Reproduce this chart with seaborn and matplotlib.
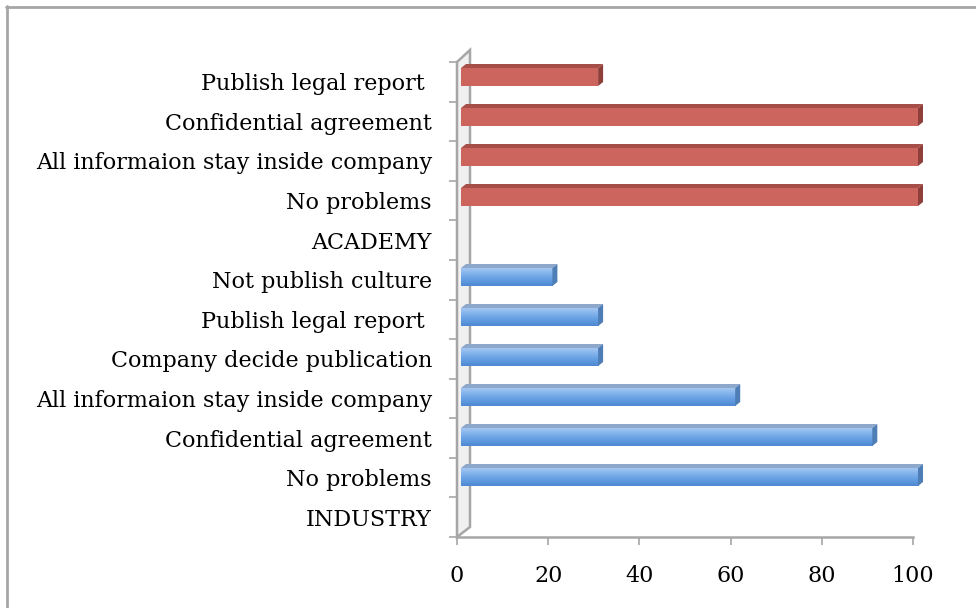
import numpy as np
import pandas as pd
import matplotlib
matplotlib.use("Agg")
import matplotlib.pyplot as plt
from matplotlib.patches import Polygon
from matplotlib.colors import LinearSegmentedColormap
import seaborn as sns

# ---- data (top to bottom) ----
labels = ["Publish legal report ", "Confidential agreement", "All informaion stay inside company",
          "No problems", "ACADEMY", "Not publish culture", "Publish legal report ",
          "Company decide publication", "All informaion stay inside company",
          "Confidential agreement", "No problems", "INDUSTRY"]
values = [30, 100, 100, 100, 0, 20, 30, 30, 60, 90, 100, 0]
groups = ["Academy"] * 5 + ["Industry"] * 7
x_ticks = [0, 20, 40, 60, 80, 100]

keys = [f"c{i}" for i in range(len(labels))]
df = pd.DataFrame({"key": keys, "value": values, "group": groups})
n = len(keys)

sns.set_theme(style="white")
plt.rcParams["font.family"] = ["DejaVu Serif"]

W, H = 976, 608
fig = plt.figure(figsize=(W / 100, H / 100), dpi=100)
fx = lambda px: px / W
fy = lambda py: 1 - py / H
grey = "#A6A6A6"

# ---- frame axes (floor, wall ticks, labels) ----
fa = fig.add_axes([fx(457), fy(537), (913 - 457) / W, (537 - 62) / H], zorder=1)
fa.set_facecolor("none")
fa.set_xlim(0, 100)
fa.set_ylim(n, 0)
for k in ("top", "right", "left"):
    fa.spines[k].set_visible(False)
fa.spines["bottom"].set_color(grey)
fa.spines["bottom"].set_linewidth(1.8)
fa.set_xticks(x_ticks)
fa.set_xticklabels([str(v) for v in x_ticks], fontsize=16, color="black")
fa.tick_params(axis="x", direction="out", length=6, width=1.2, color=grey, pad=14, bottom=True)
fa.set_yticks(np.arange(n) + 0.5)
fa.set_yticklabels(labels, fontsize=16, color="black")
fa.tick_params(axis="y", which="major", length=0, pad=18)
fa.set_yticks(np.arange(n + 1), minor=True)
fa.tick_params(axis="y", which="minor", direction="out", length=6, width=1.2, color=grey, left=True)

# wall (3D side panel)
wall = Polygon([(fx(457), fy(537)), (fx(457), fy(62)), (fx(470), fy(50)), (fx(470), fy(527))],
               closed=True, transform=fig.transFigure, facecolor="#F0F0F0",
               edgecolor=grey, linewidth=1.8, zorder=0.5)
fig.add_artist(wall)

# ---- bar axes ----
ax = fig.add_axes([fx(461), fy(537), (918 - 461) / W, (537 - 57) / H], zorder=2)
face = {"Academy": "#CB655E", "Industry": "#6AA3E6"}
sns.barplot(data=df, x="value", y="key", hue="group", order=keys, orient="h",
            palette=face, width=0.45, dodge=False, legend=False, ax=ax,
            saturation=1, edgecolor="none")
ax.set_xlim(0, 100)
ax.set_ylim(n - 0.5, -0.5)
ax.set_facecolor("none")
for s in ax.spines.values():
    s.set_visible(False)
ax.set_xticks([])
ax.set_yticks([])
ax.set_xlabel("")
ax.set_ylabel("")

top = {"Academy": "#A64F49", "Industry": "#8EA8CC"}
side = {"Academy": "#8E3F3A", "Industry": "#4F7DB6"}
blue_cmap = LinearSegmentedColormap.from_list("b", ["#A3C7F2", "#6EA6E7", "#4E88D2"])
dx, dy = 5, 4
fig.canvas.draw()
tr = ax.transData
inv = tr.inverted()
for p in list(ax.patches):
    w = p.get_width()
    if w <= 0:
        continue
    yb, hh = p.get_y(), p.get_height()
    idx = int(round(yb + hh / 2))
    g = df.loc[idx, "group"]
    (px0, py_top) = tr.transform((p.get_x(), yb))
    (px1, py_bot) = tr.transform((p.get_x() + w, yb + hh))
    top_pts = [(px0, py_top), (px1, py_top), (px1 + dx, py_top + dy), (px0 + dx, py_top + dy)]
    side_pts = [(px1, py_top), (px1 + dx, py_top + dy), (px1 + dx, py_bot + dy), (px1, py_bot)]
    for pts, c in ((top_pts, top[g]), (side_pts, side[g])):
        ax.add_patch(Polygon(inv.transform(pts), closed=True, facecolor=c,
                             edgecolor="none", clip_on=False, zorder=3))
    if g == "Industry":
        grad = np.linspace(0, 1, 64).reshape(-1, 1)
        im = ax.imshow(grad, cmap=blue_cmap, aspect="auto", interpolation="bilinear",
                       extent=(p.get_x(), p.get_x() + w, yb + hh, yb), zorder=2.5)
        im.set_clip_path(p)
    p.set_zorder(2)

ax.set_xlim(0, 100)
ax.set_ylim(n - 0.5, -0.5)

# outer chart border (top and left visible in the crop)
fig.add_artist(plt.Line2D([fx(6), fx(976)], [fy(7), fy(7)], color=grey, lw=2,
                          transform=fig.transFigure))
fig.add_artist(plt.Line2D([fx(7), fx(7)], [fy(6), fy(608)], color=grey, lw=2,
                          transform=fig.transFigure))

fig.savefig("out.png", dpi=100)
